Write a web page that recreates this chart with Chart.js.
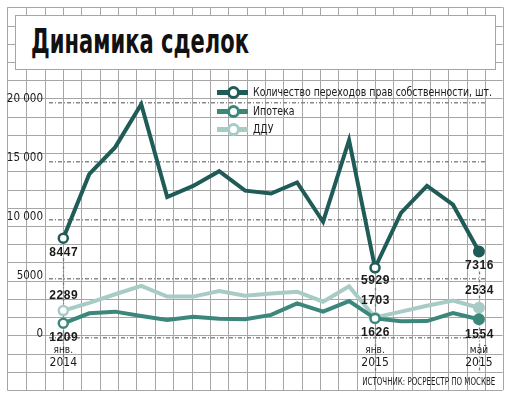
<!DOCTYPE html>
<html>
<head>
<meta charset="utf-8">
<script src="https://cdn.jsdelivr.net/npm/chart.js@4.4.1/dist/chart.umd.min.js"></script>
<style>
  html, body { margin: 0; padding: 0; background: #fff; }
  #wrap { position: relative; width: 511px; height: 398px; overflow: hidden; }
  #chart { position: absolute; left: 0; top: 0; }
  #titleBox {
    position: absolute; left: 15px; top: 15px; width: 481px; height: 55px;
    background: #fff; border: 1px solid #a6a6a6; box-sizing: border-box;
  }
  #title {
    position: absolute; left: 15px; top: 9px; white-space: nowrap;
    font: bold 33px "DejaVu Sans", sans-serif; color: #111; line-height: 33px;
    transform-origin: 0 50%;
  }
  .leg { position: absolute; left: 217px; height: 14px; white-space: nowrap; }
  .leg .bar { position: absolute; left: 0; top: 5px; width: 31px; height: 5px; }
  .leg .dot {
    position: absolute; left: 10px; top: 1px; width: 7px; height: 7px;
    border-radius: 50%; background: #fff; border: 3px solid;
  }
  .leg .txt {
    position: absolute; left: 36px; top: 0; line-height: 15px;
    font: 12px "Liberation Sans Narrow", "DejaVu Sans Condensed", sans-serif; color: #1a1a1a;
    transform-origin: 0 50%;
  }
  #source {
    position: absolute; right: 16px; top: 375px; white-space: nowrap;
    font: 10px "Liberation Sans Narrow", "DejaVu Sans Condensed", sans-serif; color: #1a1a1a;
    transform-origin: 100% 50%; line-height: 13px;
  }
</style>
</head>
<body>
<div id="wrap">
  <canvas id="chart" width="511" height="398"></canvas>
  <div id="titleBox"><div id="title">Динамика сделок</div></div>
  <div id="legend"></div>
  <div id="source">ИСТОЧНИК: РОСРЕЕСТР ПО МОСКВЕ</div>
</div>
<script>
// months jan 2014 .. may 2015
const months = ["янв. 2014", "фев. 2014", "мар. 2014", "апр. 2014", "май 2014", "июн. 2014",
  "июл. 2014", "авг. 2014", "сен. 2014", "окт. 2014", "ноя. 2014", "дек. 2014",
  "янв. 2015", "фев. 2015", "мар. 2015", "апр. 2015", "май 2015"];

const deals = [8447, 13900, 16200, 19850, 11950, 12900, 14150, 12500, 12250, 13200, 9850, 16800,
  5929, 10600, 12900, 11300, 7316];
const mortgage = [1209, 2060, 2200, 1830, 1490, 1770, 1600, 1550, 1920, 2900, 2200, 3100,
  1626, 1380, 1400, 2080, 1554];
const ddu = [2289, 2950, 3680, 4400, 3480, 3480, 3950, 3560, 3750, 3900, 3050, 4350,
  1703, 2200, 2700, 3150, 2534];

const seriesNames = ["Количество переходов прав собственности, шт.", "Ипотека", "ДДУ"];
const seriesColors = ["#1f5b57", "#3c877c", "#a8ccc5"];

const tickIdx = [0, 12, 16];
const tickTop = ["янв.", "янв.", "май"];
const tickBottom = ["2014", "2015", "2015"];

// which points get a marker and a value label
const openIdx = [0, 12];
const filledIdx = [16];

const GRAY = "#a6a6a6";

function pts(arr) {
  return arr.map((v, i) => ({ x: i, y: v }));
}

function markerRadius(i) {
  if (openIdx.includes(i)) return 4.5;
  if (filledIdx.includes(i)) return 5;
  return 0;
}

function makeDataset(arr, k) {
  const c = seriesColors[k];
  return {
    label: seriesNames[k],
    data: pts(arr),
    borderColor: c,
    borderWidth: 4,
    borderJoinStyle: "miter",
    tension: 0,
    clip: false,
    pointRadius: arr.map((v, i) => markerRadius(i)),
    pointHoverRadius: 0,
    pointBorderWidth: arr.map((v, i) => (filledIdx.includes(i) ? 2 : 2.5)),
    pointBackgroundColor: arr.map((v, i) => (filledIdx.includes(i) ? c : "#fff")),
    pointBorderColor: c
  };
}

// graph paper background
const paperPlugin = {
  id: "paper",
  beforeDraw(chart) {
    const ctx = chart.ctx;
    ctx.save();
    ctx.fillStyle = "#fff";
    ctx.fillRect(0, 0, chart.width, chart.height);
    ctx.strokeStyle = GRAY;
    ctx.lineWidth = 1;
    const x0 = 7.3, x1 = 502.7, y0 = 7.3, y1 = 390;
    ctx.beginPath();
    for (let k = 0; k <= 27; k++) {
      let x = k === 0 ? x0 : (k === 27 ? x1 : 8 + k * 18.35);
      x = Math.round(x) + 0.5;
      ctx.moveTo(x, y0);
      ctx.lineTo(x, y1);
    }
    for (let k = 0; k <= 21; k++) {
      const y = Math.round(y0 + k * ((y1 - y0) / 21)) + 0.5;
      ctx.moveTo(x0, y);
      ctx.lineTo(x1, y);
    }
    ctx.stroke();
    ctx.restore();
  }
};

// dotted drop lines at the labelled months
const dropPlugin = {
  id: "drops",
  beforeDatasetsDraw(chart) {
    const ctx = chart.ctx;
    const xs = chart.scales.x, ys = chart.scales.y;
    ctx.save();
    ctx.strokeStyle = "#7a7a7a";
    ctx.lineWidth = 1.3;
    ctx.setLineDash([3, 2, 1, 2]);
    tickIdx.forEach((i) => {
      const x = Math.round(xs.getPixelForValue(i)) + 0.5;
      ctx.beginPath();
      ctx.moveTo(x, ys.getPixelForValue(deals[i]) + 20);
      ctx.lineTo(x, 373);
      ctx.stroke();
    });
    ctx.restore();
  }
};

// value labels and month labels
const labelPlugin = {
  id: "labels",
  afterDatasetsDraw(chart) {
    const ctx = chart.ctx;
    const xs = chart.scales.x, ys = chart.scales.y;
    const series = [deals, mortgage, ddu];
    // [series, index, offset]
    const marks = [
      [0, 0, 14], [2, 0, -15], [1, 0, 14],
      [0, 12, 13], [2, 12, -17], [1, 12, 14],
      [0, 16, 14], [2, 16, -17], [1, 16, 15]
    ];
    ctx.save();
    ctx.fillStyle = "#1a1a1a";
    ctx.font = "bold 12px 'Liberation Sans', sans-serif";
    ctx.letterSpacing = "0.6px";
    ctx.textAlign = "center";
    ctx.textBaseline = "middle";
    marks.forEach(([s, i, dy]) => {
      const v = series[s][i];
      ctx.fillText(String(v), xs.getPixelForValue(i) + 0.5, ys.getPixelForValue(v) + dy);
    });
    ctx.letterSpacing = "0px";
    tickIdx.forEach((i, n) => {
      const x = xs.getPixelForValue(i);
      ctx.font = "10px 'Liberation Sans Narrow', 'DejaVu Sans Condensed', sans-serif";
      ctx.fillText(tickTop[n], x, 350);
      ctx.font = "12px 'Liberation Sans Narrow', 'DejaVu Sans Condensed', sans-serif";
      ctx.fillText(tickBottom[n], x, 363);
    });
    ctx.restore();
  }
};

function fmt(v) {
  if (v < 10000) return String(v);
  return String(v).replace(/\B(?=(\d{3})+(?!\d))/g, " ");
}

new Chart(document.getElementById("chart"), {
  type: "line",
  data: {
    labels: months,
    datasets: [makeDataset(deals, 0), makeDataset(mortgage, 1), makeDataset(ddu, 2)]
  },
  options: {
    responsive: false,
    animation: false,
    devicePixelRatio: 1,
    layout: { padding: { top: 102.5, bottom: 60.5, right: 24, left: 0 } },
    plugins: { legend: { display: false }, tooltip: { enabled: false } },
    events: [],
    scales: {
      x: {
        type: "linear",
        display: false,
        min: -0.55,
        max: 16.31
      },
      y: {
        min: 0,
        max: 20000,
        afterFit: (s) => { s.width = 49; },
        ticks: {
          stepSize: 5000,
          padding: 6,
          labelOffset: -3,
          color: "#1a1a1a",
          font: { family: "'Liberation Sans Narrow', 'DejaVu Sans Condensed', sans-serif", size: 11.5 },
          callback: (v) => fmt(v)
        },
        grid: { color: "#8a8a8a", lineWidth: 1.5, drawTicks: false },
        border: { display: false, dash: [4, 2, 1, 2] }
      }
    }
  },
  plugins: [paperPlugin, dropPlugin, labelPlugin]
});

// legend
const legend = document.getElementById("legend");
const legendY = [85, 103.5, 121.5];
seriesNames.forEach((name, k) => {
  const row = document.createElement("div");
  row.className = "leg";
  row.style.top = legendY[k] + "px";
  row.innerHTML = '<div class="bar"></div><div class="dot"></div><div class="txt"></div>';
  row.querySelector(".bar").style.background = seriesColors[k];
  row.querySelector(".dot").style.borderColor = seriesColors[k];
  row.querySelector(".txt").textContent = name;
  legend.appendChild(row);
});

// squeeze texts to the widths of the original
function fitWidth(el, w) {
  const r = el.getBoundingClientRect().width;
  const s = w / r;
  el.style.transform = "scaleX(" + s + ")";
  return s;
}
fitWidth(document.getElementById("title"), 218);
const txts = legend.querySelectorAll(".txt");
const ls = txts[0].getBoundingClientRect().width;
const scale = 239 / ls;
txts.forEach((t) => { t.style.transform = "scaleX(" + scale + ")"; });
fitWidth(document.getElementById("source"), 133);
</script>
</body>
</html>
